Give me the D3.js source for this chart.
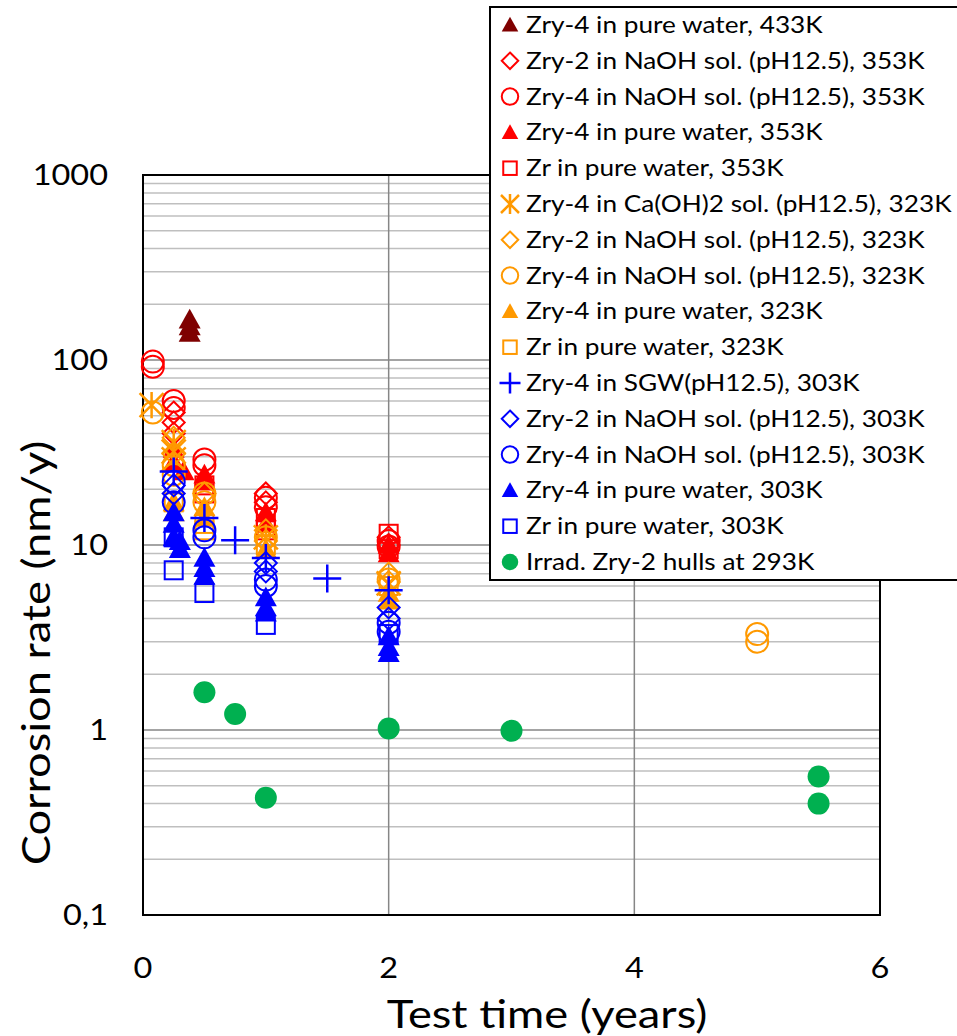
<!DOCTYPE html>
<html>
<head>
<meta charset="utf-8">
<script src="https://cdn.jsdelivr.net/npm/d3@7"></script>
<style>
  body { margin: 0; background: #fff; }
  text { font-family: Lato, "Open Sans", sans-serif; fill: #000; }
</style>
</head>
<body>
<script>
// series values: [time (years), corrosion rate (nm/y)]
var zry4Water433 = [[0.38, 165], [0.38, 152], [0.38, 140]];
var zry2NaOH353 = [[0.25, 52], [0.25, 46], [0.25, 40], [1, 19], [1, 17], [2, 11], [2, 10]];
var zry4NaOH353 = [[0.08, 98], [0.08, 92], [0.25, 60], [0.25, 55], [0.5, 29], [0.5, 27], [1, 18], [1, 16], [2, 10.5], [2, 9.8]];
var zry4Water353 = [[0.25, 33], [0.25, 28], [0.33, 25], [0.5, 24], [0.5, 22], [1, 15], [1, 13], [2, 10], [2, 9]];
var zrWater353 = [[0.5, 21], [0.5, 19], [1, 14], [1, 12], [2, 11.5], [2, 9.5]];
var zry4CaOH323 = [[0.07, 57], [0.25, 36], [0.25, 32], [0.25, 29], [1, 11], [2, 6.2]];
var zry2NaOH323 = [[0.25, 38], [0.25, 31], [0.5, 19], [1, 12], [1, 10.5], [2, 7], [2, 6.3]];
var zry4NaOH323 = [[0.08, 52], [0.25, 27], [0.25, 24], [0.5, 19], [0.5, 17], [1, 11], [2, 6.5], [5, 3.3], [5, 3.0]];
var zry4Water323 = [[0.25, 17], [0.25, 15], [0.5, 16], [0.5, 14], [1, 9.5], [2, 5.5], [2, 5]];
var zrWater323 = [[0.25, 17], [0.5, 13], [0.5, 12], [1, 10], [2, 6]];
var zry4SGW303 = [[0.25, 25], [0.5, 14], [0.75, 10.6], [1, 8.5], [1.5, 6.6], [2, 5.7]];
var zry2NaOH303 = [[0.25, 21], [0.25, 19], [1, 8], [1, 7.2], [2, 4.6], [2, 4]];
var zry4NaOH303 = [[0.25, 22], [0.25, 17], [0.5, 12], [0.5, 11], [1, 6.5], [1, 6], [2, 3.8], [2, 3.4]];
var zry4Water303 = [[0.25, 15], [0.25, 13], [0.25, 11], [0.3, 10.5], [0.3, 9.5], [0.5, 8.5], [0.5, 7.5], [0.5, 6.8], [1, 5.2], [1, 4.6], [1, 4.3], [2, 3.2], [2, 2.8], [2, 2.6]];
var zrWater303 = [[0.25, 11], [0.25, 7.3], [0.5, 5.5], [1, 3.7], [2, 3.3]];
var irradHulls293 = [[0.5, 1.6], [0.75, 1.22], [1, 0.43], [2, 1.02], [3, 0.99], [5.5, 0.56], [5.5, 0.4]];

var seriesNames = [
  "Zry-4 in pure water, 433K",
  "Zry-2 in NaOH sol. (pH12.5), 353K",
  "Zry-4 in NaOH sol. (pH12.5), 353K",
  "Zry-4 in pure water, 353K",
  "Zr in pure water, 353K",
  "Zry-4 in Ca(OH)2 sol. (pH12.5), 323K",
  "Zry-2 in NaOH sol. (pH12.5), 323K",
  "Zry-4 in NaOH sol. (pH12.5), 323K",
  "Zry-4 in pure water, 323K",
  "Zr in pure water, 323K",
  "Zry-4 in SGW(pH12.5), 303K",
  "Zry-2 in NaOH sol. (pH12.5), 303K",
  "Zry-4 in NaOH sol. (pH12.5), 303K",
  "Zry-4 in pure water, 303K",
  "Zr in pure water, 303K",
  "Irrad. Zry-2 hulls at 293K"
];
var seriesData = [zry4Water433, zry2NaOH353, zry4NaOH353, zry4Water353, zrWater353,
  zry4CaOH323, zry2NaOH323, zry4NaOH323, zry4Water323, zrWater323,
  zry4SGW303, zry2NaOH303, zry4NaOH303, zry4Water303, zrWater303, irradHulls293];

var xTicks = [0, 2, 4, 6];
var yTicks = [0.1, 1, 10, 100, 1000];

// styles
var seriesColors = ["#7f0000", "#ff0000", "#ff0000", "#ff0000", "#ff0000",
  "#ff9900", "#ff9900", "#ff9900", "#ff9900", "#ff9900",
  "#0000ff", "#0000ff", "#0000ff", "#0000ff", "#0000ff", "#00b050"];
var seriesShapes = ["triangle", "diamond", "circle", "triangle", "square",
  "asterisk", "diamond", "circle", "triangle", "square",
  "plus", "diamond", "circle", "triangle", "square", "dot"];

var width = 957, height = 1036;
var margin = {left: 143, top: 175, right: 77, bottom: 121};

var svg = d3.select("body").append("svg")
  .attr("width", width)
  .attr("height", height);

var xScale = d3.scaleLinear().domain([0, 6]).range([margin.left, width - margin.right]);
var yScale = d3.scaleLog().domain([0.1, 1000]).range([height - margin.bottom, margin.top]);

// grid
var minor = [];
[0.1, 1, 10, 100].forEach(function(d){
  for (var k = 2; k <= 9; k++) minor.push(d * k);
});
svg.append("g").selectAll("line").data(minor).enter().append("line")
  .attr("x1", xScale(0)).attr("x2", xScale(6))
  .attr("y1", function(d){ return yScale(d); })
  .attr("y2", function(d){ return yScale(d); })
  .attr("stroke", "#bfbfbf").attr("stroke-width", 1.5);
svg.append("g").selectAll("line").data(yTicks.slice(1, 4)).enter().append("line")
  .attr("x1", xScale(0)).attr("x2", xScale(6))
  .attr("y1", function(d){ return yScale(d); })
  .attr("y2", function(d){ return yScale(d); })
  .attr("stroke", "#868686").attr("stroke-width", 1.5);
svg.append("g").selectAll("line").data([2, 4]).enter().append("line")
  .attr("y1", yScale(0.1)).attr("y2", yScale(1000))
  .attr("x1", function(d){ return xScale(d); })
  .attr("x2", function(d){ return xScale(d); })
  .attr("stroke", "#868686").attr("stroke-width", 1.5);

svg.append("rect")
  .attr("x", xScale(0)).attr("y", yScale(1000))
  .attr("width", xScale(6) - xScale(0)).attr("height", yScale(0.1) - yScale(1000))
  .attr("fill", "none").attr("stroke", "#000").attr("stroke-width", 2);

// text is a bit wider in the original, so stretch it horizontally
function wideText(parent, x, y, rot, sx, size, anchor, str) {
  return parent.append("text")
    .attr("transform", "translate(" + x + "," + y + ")" + (rot ? " rotate(" + rot + ")" : "") + " scale(" + sx + ",1)")
    .attr("text-anchor", anchor)
    .attr("font-size", size)
    .text(str);
}

// tick labels
yTicks.forEach(function(d){
  wideText(svg, 108, yScale(d) + 10, 0, 1.12, 29, "end", d < 1 ? "0,1" : d);
});
xTicks.forEach(function(d){
  wideText(svg, xScale(d), 978, 0, 1.12, 29, "middle", d);
});

wideText(svg, 547, 1028, 0, 1.16, 39, "middle", "Test time (years)");
wideText(svg, 50, 653, -90, 1.16, 39, "middle", "Corrosion rate (nm/y)");

function drawMarker(g, shape, color, s) {
  if (shape == "circle") {
    g.append("circle").attr("r", s * 0.55).attr("fill", "none").attr("stroke", color).attr("stroke-width", 2);
  } else if (shape == "dot") {
    g.append("circle").attr("r", s * 0.55).attr("fill", color);
  } else if (shape == "square") {
    g.append("rect").attr("x", -s * 0.45).attr("y", -s * 0.45).attr("width", s * 0.9).attr("height", s * 0.9)
      .attr("fill", "none").attr("stroke", color).attr("stroke-width", 2);
  } else if (shape == "diamond") {
    var h = s * 0.55;
    g.append("path").attr("d", "M0," + (-h) + "L" + h + ",0L0," + h + "L" + (-h) + ",0Z")
      .attr("fill", "none").attr("stroke", color).attr("stroke-width", 2);
  } else if (shape == "triangle") {
    var t = s * 0.55;
    g.append("path").attr("d", "M0," + (-t) + "L" + t + "," + (t * 0.8) + "L" + (-t) + "," + (t * 0.8) + "Z")
      .attr("fill", color);
  } else if (shape == "plus") {
    var p = s * 0.7;
    g.append("path").attr("d", "M" + (-p) + ",0H" + p + "M0," + (-p) + "V" + p)
      .attr("stroke", color).attr("stroke-width", 2.5);
  } else if (shape == "asterisk") {
    var a = s * 0.6;
    g.append("path").attr("d", "M" + (-a) + "," + (-a) + "L" + a + "," + a + "M" + a + "," + (-a) + "L" + (-a) + "," + a + "M0," + (-a * 1.1) + "V" + (a * 1.1))
      .attr("stroke", color).attr("stroke-width", 2.5);
  }
}

// points
seriesData.forEach(function(data, i){
  var g = svg.append("g");
  g.selectAll("g").data(data).enter().append("g")
    .attr("transform", function(d){ return "translate(" + xScale(d[0]) + "," + yScale(d[1]) + ")"; })
    .each(function(){ drawMarker(d3.select(this), seriesShapes[i], seriesColors[i], 20); });
});

// legend
var legend = svg.append("g");
legend.append("rect")
  .attr("x", 490).attr("y", 7).attr("width", 480).attr("height", 573)
  .attr("fill", "#fff").attr("stroke", "#000").attr("stroke-width", 2);
seriesNames.forEach(function(name, i){
  var yy = 25 + i * 35.8;
  var g = legend.append("g").attr("transform", "translate(510," + yy + ")");
  drawMarker(g, seriesShapes[i], seriesColors[i], 15);
  wideText(legend, 526, yy + 8, 0, 1.14, 23, "start", name);
});
</script>
</body>
</html>
